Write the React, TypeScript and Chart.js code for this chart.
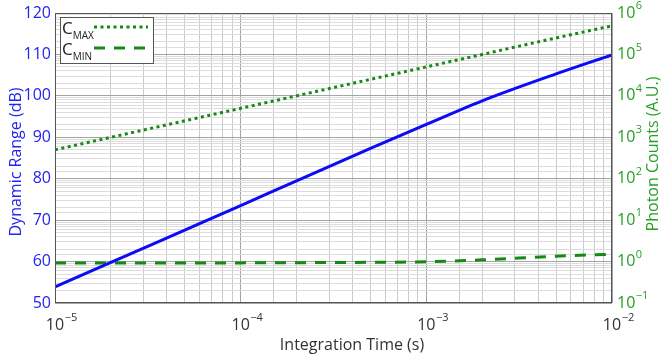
import React, { useEffect, useRef } from "react";
import { Chart, registerables } from "chart.js";

Chart.register(...registerables);

const integrationTime = [1e-5, 2e-5, 5e-5, 1e-4, 2e-4, 5e-4, 1e-3, 2e-3, 5e-3, 1e-2];
const dynamicRange = [53.9, 59.8, 67.6, 73.5, 79.5, 87.3, 93.1, 98.8, 105.3, 109.9];
const cMax = [500, 1000, 2500, 5000, 10000, 25000, 50000, 100000, 250000, 490000];
const cMin = [0.92, 0.92, 0.92, 0.93, 0.94, 0.96, 0.99, 1.1, 1.35, 1.5];

const leftTicks = [50, 60, 70, 80, 90, 100, 110, 120];
const rightExponents = [-1, 0, 1, 2, 3, 4, 5, 6];
const bottomExponents = [-5, -4, -3, -2];

const FONT = "'Open Sans', 'DejaVu Sans', sans-serif";
const BLUE = "#0b0bf5";
const GREEN = "#148a14";
const LEFT_LABEL = "#2424f0";
const RIGHT_LABEL = "#25a025";
const TEXT = "#333333";

const isPow = (v: number) => {
  const l = Math.log10(v);
  return Math.abs(l - Math.round(l)) < 1e-6;
};

function drawPow(ctx: CanvasRenderingContext2D, exp: number, x: number, y: number, anchor: "center10" | "left", color: string) {
  ctx.fillStyle = color;
  ctx.font = `16px ${FONT}`;
  ctx.textBaseline = "middle";
  ctx.textAlign = "left";
  const w = ctx.measureText("10").width;
  const x0 = anchor === "center10" ? x - w / 2 : x;
  ctx.fillText("10", x0, y);
  ctx.font = `11px ${FONT}`;
  const e = exp < 0 ? "\u2212" + String(-exp) : String(exp);
  ctx.fillText(e, x0 + w + 0.5, y - 7);
}

const decorPlugin = {
  id: "decor",
  afterDraw(chart: any) {
    const ctx: CanvasRenderingContext2D = chart.ctx;
    const a = chart.chartArea;
    const xs = chart.scales.x;
    const ys = chart.scales.y;
    const y1 = chart.scales.y1;
    ctx.save();
    // frame
    ctx.strokeStyle = "#555";
    ctx.lineWidth = 1;
    ctx.strokeRect(Math.round(a.left) + 0.5, Math.round(a.top) + 0.5, Math.round(a.width) - 1, Math.round(a.height) - 1);

    // left tick labels
    ctx.font = `16px ${FONT}`;
    ctx.fillStyle = LEFT_LABEL;
    ctx.textAlign = "right";
    ctx.textBaseline = "middle";
    leftTicks.forEach((v) => ctx.fillText(String(v), a.left - 4, ys.getPixelForValue(v)));

    // right tick labels
    rightExponents.forEach((e) => drawPow(ctx, e, a.right + 5, y1.getPixelForValue(Math.pow(10, e)), "left", RIGHT_LABEL));

    // bottom tick labels
    bottomExponents.forEach((e) => drawPow(ctx, e, xs.getPixelForValue(Math.pow(10, e)), a.bottom + 22, "center10", TEXT));

    // axis titles
    ctx.font = `16px ${FONT}`;
    ctx.textAlign = "center";
    ctx.textBaseline = "middle";
    ctx.fillStyle = TEXT;
    ctx.fillText("Integration Time (s)", 352, 345);

    ctx.save();
    ctx.translate(16, 162);
    ctx.rotate(-Math.PI / 2);
    ctx.fillStyle = LEFT_LABEL;
    ctx.fillText("Dynamic Range (dB)", 0, 0);
    ctx.restore();

    ctx.save();
    ctx.translate(653, 154);
    ctx.rotate(-Math.PI / 2);
    ctx.fillStyle = RIGHT_LABEL;
    ctx.fillText("Photon Counts (A.U.)", 0, 0);
    ctx.restore();

    // legend
    const lx = a.left + 5;
    const ly = a.top + 4;
    ctx.fillStyle = "#ffffff";
    ctx.fillRect(lx, ly, 93, 46);
    ctx.strokeStyle = "#555";
    ctx.lineWidth = 1;
    ctx.strokeRect(lx + 0.5, ly + 0.5, 93, 46);
    const entries = [
      { sub: "MAX", ds: chart.data.datasets[1], cy: ly + 12 },
      { sub: "MIN", ds: chart.data.datasets[2], cy: ly + 33 },
    ];
    entries.forEach((en) => {
      ctx.fillStyle = "#222";
      ctx.textAlign = "left";
      ctx.textBaseline = "middle";
      ctx.font = `17px ${FONT}`;
      ctx.fillText("C", lx + 2, en.cy);
      const cw = ctx.measureText("C").width;
      ctx.font = `10px ${FONT}`;
      ctx.fillText(en.sub, lx + 2 + cw, en.cy + 7);
      ctx.strokeStyle = en.ds.borderColor;
      ctx.lineWidth = en.ds.borderWidth;
      ctx.setLineDash(en.ds.borderDash);
      ctx.beginPath();
      ctx.moveTo(lx + 34, en.cy - 2);
      ctx.lineTo(lx + 88, en.cy - 2);
      ctx.stroke();
      ctx.setLineDash([]);
    });
    ctx.restore();
  },
};

export default function App() {
  const ref = useRef<HTMLCanvasElement>(null);
  useEffect(() => {
    if (!ref.current) return;
    Chart.defaults.font.family = FONT;
    const pts = (ys: number[]) => integrationTime.map((t, i) => ({ x: t, y: ys[i] }));
    const chart = new Chart(ref.current, {
      type: "line",
      data: {
        datasets: [
          {
            label: "Dynamic Range",
            data: pts(dynamicRange),
            yAxisID: "y",
            borderColor: BLUE,
            borderWidth: 3,
            pointRadius: 0,
            fill: false,
            borderDash: [],
            cubicInterpolationMode: "monotone",
          },
          {
            label: "CMAX",
            data: pts(cMax),
            yAxisID: "y1",
            borderColor: GREEN,
            borderWidth: 3,
            borderDash: [3, 3.5],
            pointRadius: 0,
            fill: false,
            cubicInterpolationMode: "monotone",
          },
          {
            label: "CMIN",
            data: pts(cMin),
            yAxisID: "y1",
            borderColor: GREEN,
            borderWidth: 3,
            borderDash: [11, 9],
            pointRadius: 0,
            fill: false,
            cubicInterpolationMode: "monotone",
          },
        ],
      },
      options: {
        animation: false,
        responsive: false,
        maintainAspectRatio: false,
        layout: { padding: { top: 13, left: 0, right: 0, bottom: 0 } },
        plugins: { legend: { display: false }, tooltip: { enabled: false }, title: { display: false } },
        scales: {
          x: {
            type: "logarithmic",
            min: 1e-5,
            max: 1e-2,
            position: "bottom",
            ticks: { display: false, autoSkip: false },
            border: { display: false },
            grid: {
              drawTicks: false,
              color: (c: any) => (c.tick && isPow(c.tick.value) ? "#a4a4a4" : "#cbcbcb"),
            },
            afterFit: (s: any) => {
              s.height = 57;
            },
          },
          y: {
            type: "linear",
            position: "left",
            min: 50,
            max: 120,
            ticks: { display: false, stepSize: 10 },
            border: { display: false },
            grid: { display: false },
            afterFit: (s: any) => {
              s.width = 55;
            },
          },
          y1: {
            type: "logarithmic",
            position: "right",
            min: 0.1,
            max: 1e6,
            ticks: { display: false, autoSkip: false },
            border: { display: false },
            grid: {
              drawTicks: false,
              color: (c: any) => (c.tick && isPow(c.tick.value) ? "#a4a4a4" : "#dcdcdc"),
            },
            afterFit: (s: any) => {
              s.width = 51;
            },
          },
        },
      },
      plugins: [decorPlugin],
    });
    return () => chart.destroy();
  }, []);
  return (
    <div style={{ position: "absolute", left: 0, top: 0, width: 663, height: 360, background: "#fff" }}>
      <canvas ref={ref} width={663} height={360} />
    </div>
  );
}
